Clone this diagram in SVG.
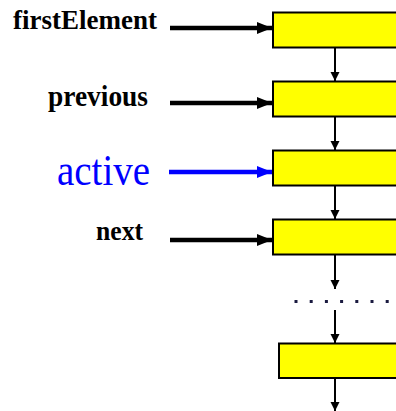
<svg xmlns="http://www.w3.org/2000/svg" width="396" height="411" viewBox="0 0 396 411">
<style>
.box{fill:#FFFF00;stroke:#000;stroke-width:2}
.lbl{font-family:"Liberation Serif","Times New Roman",serif;font-weight:bold;fill:#000}
.ptr{stroke:#000;stroke-width:4.5;fill:none}
.link{stroke:#000;stroke-width:2;fill:none}
</style>
<defs>
<marker id="hb" markerUnits="userSpaceOnUse" markerWidth="16" markerHeight="12" refX="15" refY="6" orient="auto"><path d="M0,0 L15,6 L0,12 Z" fill="#000"/></marker>
<marker id="hblue" markerUnits="userSpaceOnUse" markerWidth="16" markerHeight="12" refX="15" refY="6" orient="auto"><path d="M0,0 L15,6 L0,12 Z" fill="#0000FF"/></marker>
<marker id="hv" markerUnits="userSpaceOnUse" markerWidth="10" markerHeight="10" refX="9" refY="4.5" orient="auto"><path d="M0,0 L9,4.5 L0,9 Z" fill="#000"/></marker>
</defs>
<rect width="396" height="411" fill="#fff"/>
<g id="node1"><rect class="box" x="273" y="12.5" width="130" height="35"/></g>
<g id="node2"><rect class="box" x="273" y="81.5" width="130" height="35"/></g>
<g id="node3"><rect class="box" x="273" y="150.5" width="130" height="35"/></g>
<g id="node4"><rect class="box" x="273" y="219.5" width="130" height="35"/></g>
<g id="node5"><rect class="box" x="279" y="343.5" width="130" height="34.5"/></g>
<g id="dots"><line x1="294.5" y1="301.5" x2="390" y2="301.5" stroke="#1a1a40" stroke-width="3" stroke-dasharray="3 12.2"/></g>
<g id="label-firstElement"><text class="lbl" x="13" y="28.5" font-size="27" textLength="144" lengthAdjust="spacingAndGlyphs">firstElement</text></g>
<g id="label-previous"><text class="lbl" transform="translate(48,106) scale(1,1.08)" font-size="27" textLength="100" lengthAdjust="spacingAndGlyphs">previous</text></g>
<g id="label-active"><text transform="translate(57,185) scale(1,1.15)" font-family="'Liberation Serif','Times New Roman',serif" font-size="39" fill="#0000FF" textLength="93" lengthAdjust="spacingAndGlyphs">active</text></g>
<g id="label-next"><text class="lbl" transform="translate(96,240) scale(1,1.08)" font-size="26" textLength="47" lengthAdjust="spacingAndGlyphs">next</text></g>
<g id="connectors">
<line class="ptr" x1="170" y1="28" x2="272" y2="28" marker-end="url(#hb)"/>
<line class="ptr" x1="170" y1="103" x2="272" y2="103" marker-end="url(#hb)"/>
<line class="ptr" x1="169" y1="172" x2="272" y2="172" style="stroke:#0000FF" marker-end="url(#hblue)"/>
<line class="ptr" x1="170" y1="240" x2="272" y2="240" marker-end="url(#hb)"/>
<line class="link" x1="335" y1="48" x2="335" y2="81" marker-end="url(#hv)"/>
<line class="link" x1="335" y1="117" x2="335" y2="150" marker-end="url(#hv)"/>
<line class="link" x1="335" y1="186" x2="335" y2="219" marker-end="url(#hv)"/>
<line class="link" x1="335" y1="255" x2="335" y2="289" marker-end="url(#hv)"/>
<line class="link" x1="335" y1="310" x2="335" y2="343" marker-end="url(#hv)"/>
<line class="link" x1="335" y1="379" x2="335" y2="411" marker-end="url(#hv)"/>
</g>
</svg>
